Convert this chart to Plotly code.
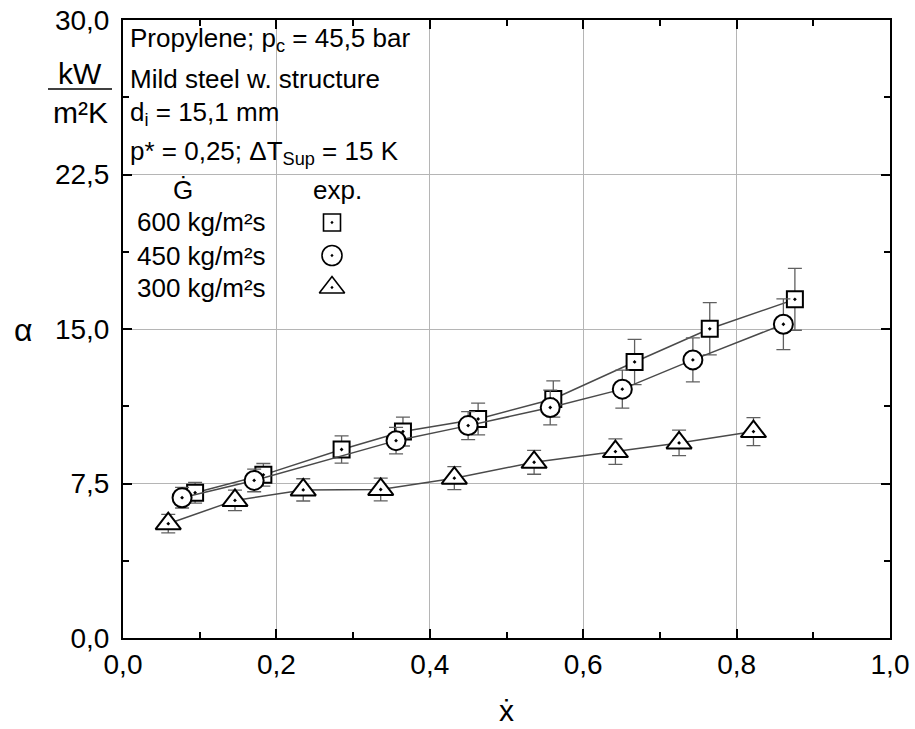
import plotly.graph_objects as go

# Heat transfer coefficient vs. vapour quality for three mass fluxes
x600 = [0.094, 0.183, 0.285, 0.365, 0.463, 0.561, 0.667, 0.765, 0.876]
a600 = [7.05, 7.92, 9.15, 10.02, 10.63, 11.60, 13.40, 15.01, 16.44]
e600 = [0.50, 0.55, 0.66, 0.70, 0.77, 0.88, 1.10, 1.27, 1.50]

x450 = [0.077, 0.171, 0.356, 0.450, 0.557, 0.651, 0.743, 0.861]
a450 = [6.81, 7.65, 9.58, 10.31, 11.19, 12.08, 13.50, 15.23]
e450 = [0.50, 0.55, 0.64, 0.68, 0.84, 0.92, 1.07, 1.23]

x300 = [0.059, 0.146, 0.235, 0.336, 0.432, 0.536, 0.642, 0.725, 0.822]
a300 = [5.55, 6.68, 7.19, 7.21, 7.76, 8.53, 9.05, 9.47, 10.02]
e300 = [0.45, 0.50, 0.54, 0.55, 0.56, 0.58, 0.62, 0.62, 0.68]

series_labels = ["600 kg/m²s", "450 kg/m²s", "300 kg/m²s"]
symbols = ["square-dot", "circle-dot", "triangle-up-dot"]
sizes = [16, 19, 22]

x_ticks = [0.0, 0.2, 0.4, 0.6, 0.8, 1.0]
y_ticks = [0.0, 7.5, 15.0, 22.5, 30.0]

FONT = "Liberation Sans, Arial, sans-serif"
W, H = 915, 729
L, R, T, B = 123, 25, 20, 91
PW, PH = W - L - R, H - T - B


def px(xp):
    return (xp - L) / PW


def py(yp):
    return (H - B - yp) / PH


fig = go.Figure()

for xs, ys, es, sym, sz in [
    (x600, a600, e600, symbols[0], sizes[0]),
    (x450, a450, e450, symbols[1], sizes[1]),
    (x300, a300, e300, symbols[2], sizes[2]),
]:
    fig.add_trace(go.Scatter(
        x=xs, y=ys, mode="lines+markers",
        line=dict(color="#4a4a4a", width=1.5),
        marker=dict(symbol=sym, size=sz, color="white",
                    line=dict(color="black", width=2)),
        error_y=dict(type="data", array=es, color="#606060",
                     thickness=1.3, width=7),
        showlegend=False, hoverinfo="skip",
    ))

# key glyphs placed on an overlay axis spanning the plot area in [0, 1]
key_y = [222.5, 255.5, 287.5]
key_sizes = [17, 20, 22]
for yk, sym, sz in zip(key_y, symbols, key_sizes):
    fig.add_trace(go.Scatter(
        x=[px(332)], y=[py(yk)], xaxis="x2", yaxis="y2", mode="markers",
        marker=dict(symbol=sym, size=sz, color="white",
                    line=dict(color="black", width=1.6)),
        showlegend=False, hoverinfo="skip",
    ))

axis_common = dict(
    showline=True, linecolor="black", linewidth=2, mirror="allticks",
    ticks="inside", ticklen=9, tickwidth=2, tickcolor="black",
    showgrid=True, gridcolor="#b5b5b5", gridwidth=1, zeroline=False,
    tickfont=dict(family=FONT, size=28, color="black"),
    tickformat=".1f", automargin=False,
)

fig.update_layout(
    width=W, height=H,
    margin=dict(l=L, r=R, t=T, b=B, autoexpand=False),
    plot_bgcolor="white", paper_bgcolor="white",
    separators=",.",
    xaxis=dict(range=[0, 1], tickvals=x_ticks,
               minor=dict(ticks="inside", dtick=0.1, ticklen=6,
                          tickwidth=2, tickcolor="black", showgrid=False),
               ticklabelstandoff=0, **axis_common),
    yaxis=dict(range=[0, 30], tickvals=y_ticks,
               minor=dict(ticks="inside", dtick=3.75, ticklen=6,
                          tickwidth=2, tickcolor="black", showgrid=False),
               ticklabelstandoff=6, **axis_common),
    xaxis2=dict(range=[0, 1], overlaying="x", visible=False),
    yaxis2=dict(range=[0, 1], overlaying="y", visible=False),
)

# white panel behind the description text
fig.add_shape(type="rect", xref="paper", yref="paper",
              x0=px(124), x1=px(415), y0=py(307), y1=py(21),
              fillcolor="white", line=dict(width=0), layer="between")

# unit fraction of the y axis
fig.add_shape(type="line", xref="paper", yref="paper",
              x0=px(48), x1=px(112), y0=py(89), y1=py(89),
              line=dict(color="black", width=1.5))


def note(text, x, y, xanchor="left", size=26):
    fig.add_annotation(text=text, x=px(x), y=py(y), xref="paper", yref="paper",
                       xanchor=xanchor, yanchor="middle", showarrow=False,
                       font=dict(family=FONT, size=size, color="black"))


note("kW", 80, 73, "center", 30)
note("m²K", 80, 112, "center", 30)
note("α", 23, 330, "center", 32)
note("ẋ", 506, 710, "center", 30)

note("Propylene; p<sub>c</sub> = 45,5 bar", 128, 40)
note("Mild steel w. structure", 128, 79)
note("d<sub>i</sub> = 15,1 mm", 128, 113)
note("p* = 0,25; ΔT<sub>Sup</sub> = 15 K", 128, 152)
note("Ġ", 183, 190, "center")
note("exp.", 337, 190, "center")
for yk, lab in zip(key_y, series_labels):
    note(lab, 135, yk)

fig.write_html("out.html")
